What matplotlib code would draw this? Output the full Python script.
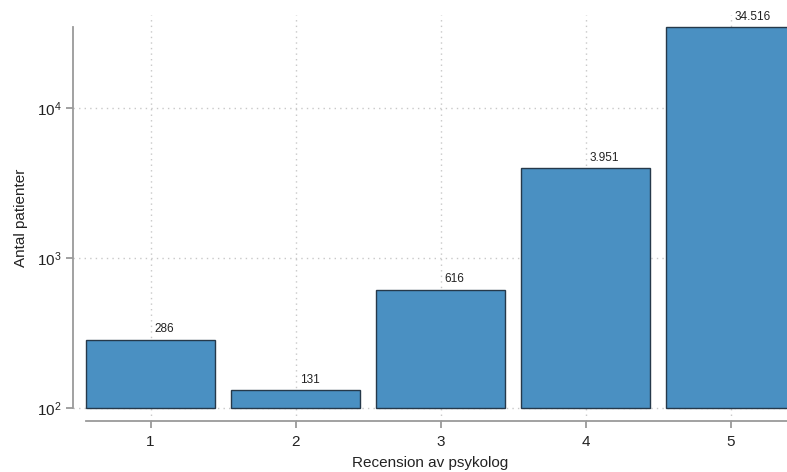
import matplotlib
matplotlib.use("Agg")
import matplotlib.pyplot as plt
import numpy as np

categories = [1, 2, 3, 4, 5]
values = [286, 131, 616, 3951, 34516]
value_labels = ["286", "131", "616", "3.951", "34.516"]
ytick_vals = [100, 1000, 10000]
ytick_labels = [r"$\mathregular{10^{2}}$", r"$\mathregular{10^{3}}$", r"$\mathregular{10^{4}}$"]

plt.rcParams['font.family'] = ['Liberation Sans', 'DejaVu Sans']

fig = plt.figure(figsize=(7.87, 4.72), dpi=100)
W, H = 787, 472
ax = fig.add_axes([73 / W, 1 - 421 / H, 1 - 73 / W, (421 - 15) / H])

base = 100
heights = [v - base for v in values]
ax.bar(categories, heights, bottom=base, width=0.89, color="#4a90c2",
       edgecolor="#26394a", linewidth=1.0, zorder=2)

ax.set_yscale("log")
ax.set_ylim(10 ** (2 - 13 / 150), 10 ** (4 + 93 / 150))
ax.set_xlim(0.465, 0.465 + 714 / 145)

for x, v, lab in zip(categories, values, value_labels):
    ax.annotate(lab, (x, v), xytext=(3, 3), textcoords="offset points",
                ha="left", va="bottom", fontsize=8.5, color="#222222", zorder=3)

ax.set_yticks(ytick_vals)
ax.set_yticklabels(ytick_labels)
ax.yaxis.set_minor_locator(matplotlib.ticker.NullLocator())
ax.set_xticks(categories)
ax.set_xticklabels([str(c) for c in categories])

ax.grid(True, which="major", linestyle=(0, (1, 3)), color="#c8c8c8", linewidth=1.0)
ax.set_axisbelow(True)

for s in ["top", "right"]:
    ax.spines[s].set_visible(False)
for s in ["left", "bottom"]:
    ax.spines[s].set_color("#9a9a9a")
    ax.spines[s].set_linewidth(1.3)
ax.spines["left"].set_bounds(100, values[-1])
ax.spines["bottom"].set_bounds(0.555, 0.465 + 714 / 145)

ax.tick_params(axis="both", colors="#9a9a9a", width=1.3, length=5, labelsize=11,
               labelcolor="#222222")
ax.tick_params(axis="x", pad=5)

ax.set_xlabel("Recension av psykolog", fontsize=11, color="#222222", labelpad=5)
ax.set_ylabel("Antal patienter", fontsize=11, color="#222222", labelpad=6)

fig.savefig("out.png", dpi=100)
